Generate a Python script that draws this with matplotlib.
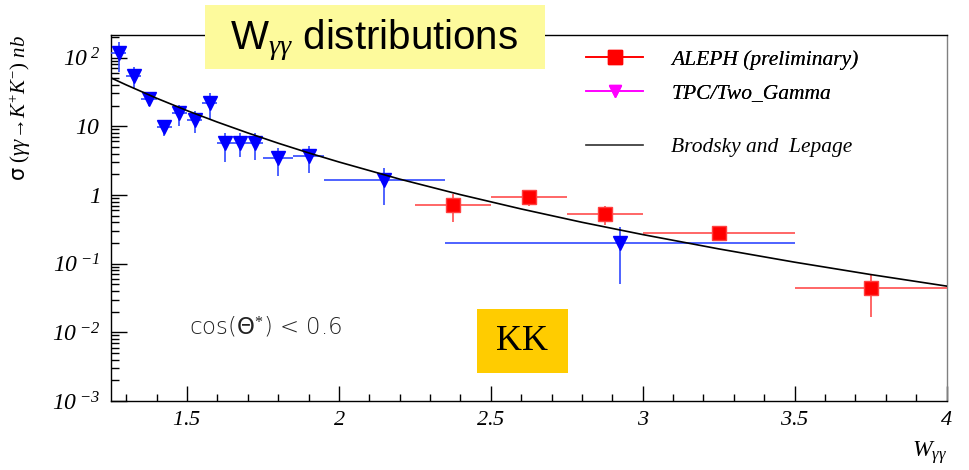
import numpy as np
import matplotlib.pyplot as plt
from matplotlib.lines import Line2D
from matplotlib.patches import Rectangle
from matplotlib.ticker import MultipleLocator, LogLocator, FuncFormatter, NullFormatter

plt.rcParams['font.family'] = ['Liberation Serif', 'DejaVu Sans']
plt.rcParams['mathtext.fontset'] = 'custom'
plt.rcParams['mathtext.rm'] = 'Liberation Serif'
plt.rcParams['mathtext.it'] = 'Liberation Serif:italic'
plt.rcParams['mathtext.bf'] = 'Liberation Serif:bold'
plt.rcParams['mathtext.sf'] = 'DejaVu Sans'
# italic serif digits for the tick labels
plt.rcParams['mathtext.cal'] = 'Liberation Serif:italic'

# TPC/Two-Gamma points (W bin centre, half width, sigma, error band)
tpc_w = [1.275, 1.325, 1.375, 1.425, 1.475, 1.525, 1.575, 1.625, 1.675, 1.725, 1.80, 1.90, 2.15, 2.925]
tpc_dw = [0.025, 0.025, 0.025, 0.025, 0.025, 0.025, 0.025, 0.025, 0.025, 0.025, 0.05, 0.05, 0.20, 0.575]
tpc_sig = [116, 54, 25.2, 9.7, 15.4, 12.4, 21.8, 5.8, 5.8, 5.8, 3.5, 3.65, 1.64, 0.198]
tpc_lo = [62, 35.6, 20, 7.3, 10.2, 8.1, 12.7, 3.03, 3.6, 3.2, 1.9, 2.1, 0.71, 0.05]
tpc_hi = [167, 72, 30, 12.1, 20.6, 16.7, 30.5, 8.1, 7.85, 8.0, 4.9, 5.1, 2.5, 0.34]

# ALEPH preliminary points
aleph_w = [2.375, 2.625, 2.875, 3.25, 3.75]
aleph_dw = [0.125, 0.125, 0.125, 0.25, 0.25]
aleph_sig = [0.71, 0.925, 0.528, 0.277, 0.0436]
aleph_lo = [0.41, 0.69, 0.365, 0.21, 0.0166]
aleph_hi = [1.02, 1.16, 0.69, 0.35, 0.071]

# Brodsky-Lepage prediction
bl_w = [1.25, 1.3, 1.4, 1.5, 1.6, 1.7, 1.8, 1.9, 2.0, 2.2, 2.4, 2.6, 2.8, 3.0, 3.25, 3.5, 3.75, 4.0]
bl_sig = [50.6, 40.0, 25.6, 16.9, 11.5, 8.0, 5.67, 4.10, 3.02, 1.70, 1.01, 0.625, 0.40,
          0.265, 0.164, 0.105, 0.0694, 0.0471]

fig = plt.figure(figsize=(9.69, 4.70), dpi=100)
ax = fig.add_axes([0.1146, 0.1468, 0.8622, 0.7787])

tpc_sig_a = np.array(tpc_sig)
tpc_yerr = [tpc_sig_a - np.array(tpc_lo), np.array(tpc_hi) - tpc_sig_a]
ax.errorbar(tpc_w, tpc_sig, xerr=tpc_dw, yerr=tpc_yerr, fmt='v', color='#0000ff',
            ecolor='#3048ff', elinewidth=1.2, capsize=0, ms=9.5, mec='#0000ff', zorder=3)

al_sig_a = np.array(aleph_sig)
al_yerr = [al_sig_a - np.array(aleph_lo), np.array(aleph_hi) - al_sig_a]
ax.errorbar(aleph_w, aleph_sig, xerr=aleph_dw, yerr=al_yerr, fmt='s', color='#ff0000',
            ecolor='#ff5a5a', elinewidth=1.3, capsize=0, ms=10.5, mec='#ff4040', zorder=3)

ax.plot(bl_w, bl_sig, color='black', lw=1.2, zorder=4)

ax.set_yscale('log')
ax.set_xlim(1.25, 4.0)
ax.set_ylim(1e-3, 213)

# axis ticks
ax.xaxis.set_major_locator(MultipleLocator(0.5))
ax.xaxis.set_minor_locator(MultipleLocator(0.1))
ax.yaxis.set_major_locator(LogLocator(base=10, numticks=10))
ax.yaxis.set_minor_locator(LogLocator(base=10, subs=np.arange(2, 10), numticks=20))
ax.yaxis.set_minor_formatter(NullFormatter())


def xfmt(v, pos):
    return r'$\mathcal{%g}$' % v


def yfmt(v, pos):
    e = int(round(np.log10(v)))
    if e == 0:
        return r'$\mathcal{1}$'
    if e == 1:
        return r'$\mathcal{10}$'
    return r'$\mathcal{10}^{\;\mathcal{%d}}$' % e


ax.xaxis.set_major_formatter(FuncFormatter(xfmt))
ax.yaxis.set_major_formatter(FuncFormatter(yfmt))
ax.tick_params(which='both', direction='in', top=False, right=False, width=1.0)
ax.tick_params(axis='x', which='major', length=11, pad=7, labelsize=16)
ax.tick_params(axis='x', which='minor', length=5)
ax.tick_params(axis='y', which='major', length=11.5, pad=8, labelsize=17)
ax.tick_params(axis='y', which='minor', length=5.5)
ax.spines['right'].set_color('#808080')
for s in ax.spines.values():
    s.set_linewidth(1.0)

ax.set_ylabel(r'$\mathsf{\sigma}\ (\gamma\gamma\!\rightarrow\! K^{+}K^{-})\ nb$', fontsize=15)
ax.yaxis.set_label_coords(-0.093, 0.80)
ax.set_xlabel(r'$W_{\gamma\gamma}$', fontsize=17)
ax.xaxis.set_label_coords(0.98, -0.105)

# legend
h_aleph = Line2D([], [], color='#ff0000', marker='s', ms=10.5, lw=1.2)
h_tpc = Line2D([], [], color='#ff00ff', marker='v', ms=8, lw=1.2)
h_bl = Line2D([], [], color='#303030', lw=1.2)
leg1 = fig.legend([h_aleph, h_tpc], ['ALEPH (preliminary)', 'TPC/Two_Gamma'],
                  loc='center left', bbox_to_anchor=(0.605, 0.837), frameon=False,
                  prop={'style': 'italic', 'size': 15.5}, handlelength=2.65,
                  handletextpad=1.3, labelspacing=0.62, borderpad=0, borderaxespad=0)
fig.legend([h_bl], ['Brodsky and  Lepage'], loc='center left',
           bbox_to_anchor=(0.605, 0.687), frameon=False,
           prop={'style': 'italic', 'size': 15.5}, handlelength=2.65,
           handletextpad=1.3, borderpad=0, borderaxespad=0)
fig.add_artist(leg1)

# title box
fig.add_artist(Rectangle((0.2116, 0.853), 0.351, 0.136, transform=fig.transFigure,
                         facecolor='#fdfa9c', edgecolor='none', zorder=5))
fig.text(0.386, 0.915, r'W$_{\gamma\gamma}$ distributions', ha='center', va='center',
         family='Liberation Sans', fontsize=29, zorder=6)

# KK box
fig.add_artist(Rectangle((0.4923, 0.207), 0.0939, 0.1355, transform=fig.transFigure,
                         facecolor='#ffcc00', edgecolor='none', zorder=5))
fig.text(0.539, 0.273, 'KK', ha='center', va='center', family='Liberation Serif',
         fontsize=26, zorder=6)

fig.text(0.195, 0.304, r'cos($\mathsf{\Theta}^{*}$) < 0.6', ha='left', va='center',
         family='DejaVu Sans', fontweight='light', fontsize=16.5, color='#222222')

fig.savefig('out.png', dpi=100)
